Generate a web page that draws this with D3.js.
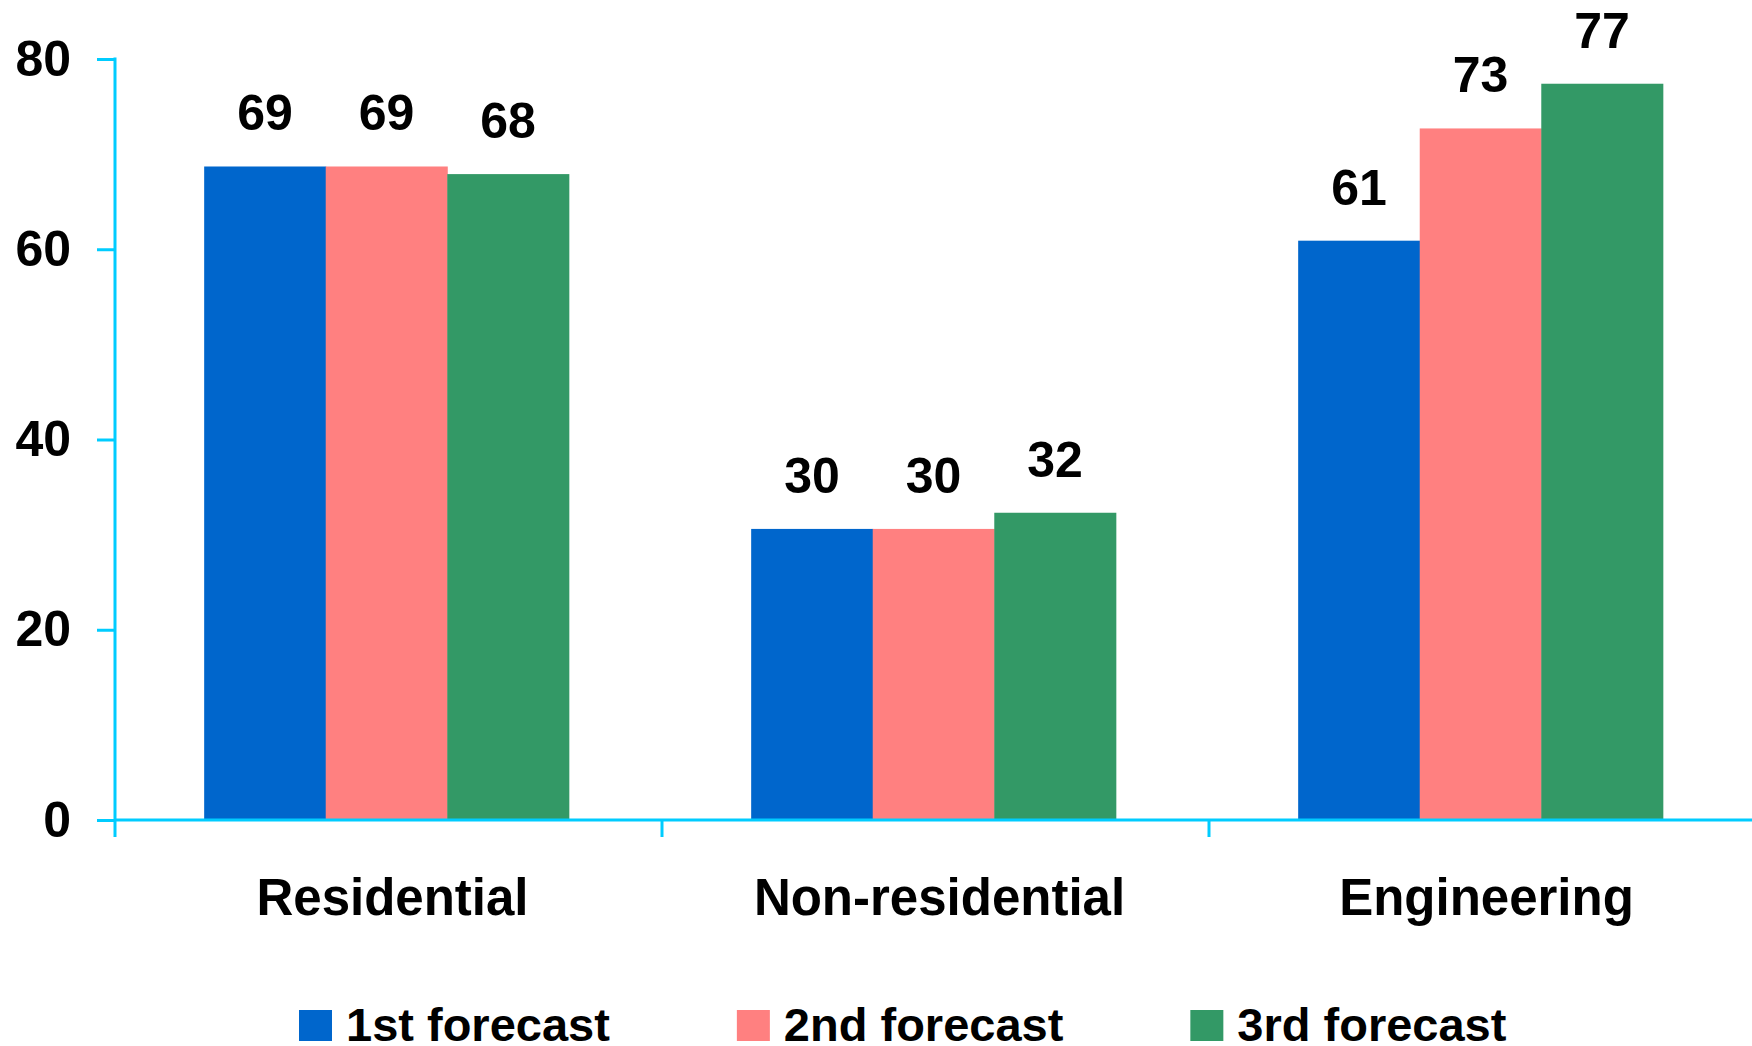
<!DOCTYPE html>
<html>
<head>
<meta charset="utf-8">
<script src="https://cdn.jsdelivr.net/npm/d3@7"></script>
<style>
  body { margin: 0; background: #fff; }
  text { font-family: "Liberation Sans", Arial, sans-serif; font-weight: bold; fill: #000; }
</style>
</head>
<body>
<div id="chart"></div>
<script>
// forecast comparison, grouped bars
const categories = ['Residential', 'Non-residential', 'Engineering'];
const series = ['1st forecast', '2nd forecast', '3rd forecast'];
const first = [68.7, 30.6, 60.9];
const second = [68.7, 30.6, 72.7];
const third = [67.9, 32.3, 77.4];
const labels = [['69', '69', '68'], ['30', '30', '32'], ['61', '73', '77']];
const yTicks = [0, 20, 40, 60, 80];

const colors = ['#0066CC', '#FF8080', '#339966'];
const axisColor = '#00CCFF';

const width = 1752, height = 1046;
const margin = {top: 59, left: 115, bottom: 820, right: 1756};

const values = [first, second, third];
const data = categories.map((c, i) => ({
  cat: c,
  bars: series.map((s, j) => ({ s: s, v: values[j][i], label: labels[i][j], k: j }))
}));

const svg = d3.select('#chart').append('svg')
  .attr('width', width)
  .attr('height', height);

const x0 = d3.scaleBand()
  .domain(categories)
  .range([margin.left, margin.right])
  .padding(0);

// groups sit a touch left of the band centre
const x1 = d3.scaleBand()
  .domain(series)
  .range([-2, x0.bandwidth() - 2])
  .paddingInner(0)
  .paddingOuter(0.75);

const y = d3.scaleLinear()
  .domain([0, 80])
  .range([margin.bottom, margin.top]);

// bars
const g = svg.append('g')
  .selectAll('g')
  .data(data)
  .join('g')
  .attr('transform', d => `translate(${x0(d.cat)},0)`);

g.selectAll('rect')
  .data(d => d.bars)
  .join('rect')
  .attr('x', d => x1(d.s))
  .attr('y', d => y(d.v))
  .attr('width', x1.bandwidth() + 0.5)
  .attr('height', d => y(0) - y(d.v))
  .attr('fill', d => colors[d.k]);

g.selectAll('text')
  .data(d => d.bars)
  .join('text')
  .attr('x', d => x1(d.s) + x1.bandwidth() / 2)
  .attr('y', d => y(d.v) - 36)
  .attr('text-anchor', 'middle')
  .attr('font-size', 50)
  .text(d => d.label);

// y axis
const yAxis = svg.append('g')
  .attr('transform', `translate(${margin.left},0)`)
  .call(d3.axisLeft(y).tickValues(yTicks).tickSize(18).tickSizeOuter(0).tickPadding(26));
yAxis.select('.domain').remove();
yAxis.selectAll('.tick line').attr('stroke', axisColor).attr('stroke-width', 3);
yAxis.selectAll('.tick text')
  .attr('font-size', 50)
  .attr('font-family', '"Liberation Sans", Arial, sans-serif')
  .attr('font-weight', 'bold')
  .attr('fill', '#000');
yAxis.append('line')
  .attr('x1', 0).attr('x2', 0)
  .attr('y1', y(80) - 1.5).attr('y2', y(0) + 17)
  .attr('stroke', axisColor).attr('stroke-width', 3);

// x axis
const xAxis = svg.append('g');
xAxis.append('line')
  .attr('x1', margin.left).attr('x2', width)
  .attr('y1', y(0)).attr('y2', y(0))
  .attr('stroke', axisColor).attr('stroke-width', 3);
xAxis.selectAll('.sep')
  .data(categories.slice(1))
  .join('line')
  .attr('class', 'sep')
  .attr('x1', d => x0(d)).attr('x2', d => x0(d))
  .attr('y1', y(0)).attr('y2', y(0) + 17)
  .attr('stroke', axisColor).attr('stroke-width', 3);
xAxis.selectAll('text')
  .data(categories)
  .join('text')
  .attr('x', d => x0(d) + x0.bandwidth() / 2 + 4)
  .attr('y', 915)
  .attr('text-anchor', 'middle')
  .attr('font-size', 51)
  .text(d => d);

// legend
const legend = svg.append('g').attr('transform', 'translate(299,1010)');
let lx = 0;
series.forEach((s, i) => {
  const item = legend.append('g').attr('transform', `translate(${lx},0)`);
  item.append('rect')
    .attr('width', 33).attr('height', 31)
    .attr('fill', colors[i]);
  const t = item.append('text')
    .attr('x', 47).attr('y', 31)
    .attr('font-size', 47)
    .text(s);
  lx += 47 + t.node().getComputedTextLength() + 127;
});
</script>
</body>
</html>
